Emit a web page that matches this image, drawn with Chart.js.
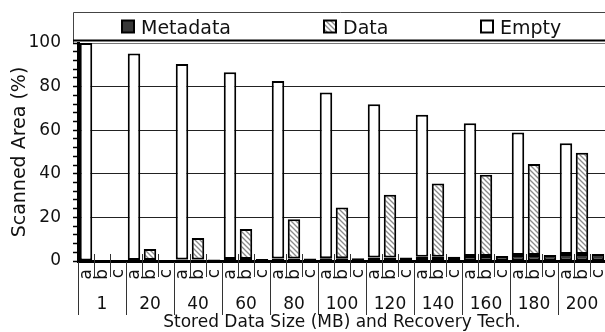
<!DOCTYPE html>
<html>
<head>
<meta charset="utf-8">
<script src="https://cdn.jsdelivr.net/npm/chart.js@4.4.1/dist/chart.umd.min.js"></script>
<style>
  html, body { margin: 0; padding: 0; overflow: hidden; background: #fff; }
  #wrap { width: 607px; height: 332px; }
</style>
</head>
<body>
<div id="wrap"><canvas id="scanChart"></canvas></div>
<script>
// stored data size groups and recovery techniques
const sizes = ['1', '20', '40', '60', '80', '100', '120', '140', '160', '180', '200'];
const techs = ['a', 'b', 'c'];

// values (% of scanned area)
const metadataPct = [0, 0.5, 0.7, 0.9, 1.1, 1.3, 1.6, 1.9, 2.3, 2.7, 3.2];
const dataPct     = [0, 5.0, 9.8, 13.8, 18.0, 23.2, 28.8, 33.7, 37.3, 41.8, 46.5];
const emptyPct    = [100, 94.7, 89.7, 85.7, 81.5, 76.0, 70.3, 65.2, 60.9, 56.2, 50.8];

const yTicks = [0, 20, 40, 60, 80, 100];

const FONT = 'DejaVu Sans';

// bar a = metadata + empty, bar b = metadata + data, bar c = metadata only
const barLabels = sizes.flatMap(() => techs);
const nz = v => (v > 0 ? v : null);
const metaSeries = sizes.flatMap((s, i) => [nz(metadataPct[i]), nz(metadataPct[i]), nz(metadataPct[i])]);
const dataSeries = sizes.flatMap((s, i) => [null, nz(dataPct[i]), null]);
const emptySeries = sizes.flatMap((s, i) => [nz(emptyPct[i]), null, null]);

// hatch for the "Data" series
function makeHatch() {
    const s = 5;
    const c = document.createElement('canvas');
    c.width = s; c.height = s;
    const g = c.getContext('2d');
    g.fillStyle = '#fff';
    g.fillRect(0, 0, s, s);
    g.strokeStyle = '#8a8a8a';
    g.lineWidth = 1.3;
    g.beginPath();
    g.moveTo(0, 0); g.lineTo(s, s);
    g.moveTo(-1, s - 1); g.lineTo(1, s + 1);
    g.moveTo(s - 1, -1); g.lineTo(s + 1, 1);
    g.stroke();
    return g.createPattern(c, 'repeat');
}
const hatch = makeHatch();
const META_COLOR = '#383838';

// legend box, rotated tech letters and the separators under the x axis
const decorations = {
    id: 'decorations',
    afterDraw(chart) {
        const ctx = chart.ctx;
        const x = chart.scales.x;
        const area = chart.chartArea;
        ctx.save();

        // tech letters, read bottom-to-top
        ctx.font = '17px "' + FONT + '"';
        ctx.fillStyle = '#111';
        ctx.textAlign = 'right';
        ctx.textBaseline = 'middle';
        barLabels.forEach((lab, i) => {
            ctx.save();
            ctx.translate(x.getPixelForValue(i) + 1, area.bottom + 8);
            ctx.rotate(-Math.PI / 2);
            ctx.fillText(lab, 0, 0);
            ctx.restore();
        });

        // separators between bars / groups
        const half = (x.getPixelForValue(1) - x.getPixelForValue(0)) / 2;
        const n = barLabels.length;
        ctx.strokeStyle = '#333';
        ctx.lineWidth = 1;
        for (let i = 0; i <= n; i++) {
            const px = Math.round(i < n ? x.getPixelForValue(i) - half : x.getPixelForValue(n - 1) + half) + 0.5;
            ctx.beginPath();
            if (i % 3 === 0) {
                ctx.moveTo(px, area.bottom + 1);
                ctx.lineTo(px, area.bottom + 54);
            } else {
                ctx.moveTo(px, area.bottom - 7);
                ctx.lineTo(px, area.bottom + 16);
            }
            ctx.stroke();
        }

        // legend frame
        const left = 73.5, right = 607, top = 12.5;
        ctx.strokeStyle = '#444';
        ctx.lineWidth = 1;
        ctx.beginPath();
        ctx.moveTo(left, area.top);
        ctx.lineTo(left, top);
        ctx.lineTo(right, top);
        ctx.stroke();
        ctx.strokeStyle = '#000';
        ctx.lineWidth = 2;
        ctx.beginPath();
        ctx.moveTo(left - 0.5, 40.5);
        ctx.lineTo(right, 40.5);
        ctx.stroke();

        // legend items
        const items = [
            { text: 'Metadata', fill: META_COLOR, x: 121 },
            { text: 'Data', fill: hatch, x: 323 },
            { text: 'Empty', fill: '#fff', x: 480 }
        ];
        ctx.font = '19px "' + FONT + '"';
        ctx.textBaseline = 'alphabetic';
        ctx.textAlign = 'left';
        items.forEach(it => {
            ctx.fillStyle = '#000';
            ctx.fillRect(it.x, 19.5, 14, 14);
            ctx.fillStyle = it.fill;
            ctx.fillRect(it.x + 2, 21.5, 10, 10);
            ctx.fillStyle = '#111';
            ctx.fillText(it.text, it.x + 20, 34);
        });
        ctx.restore();
    }
};

const barCommon = {
    borderColor: '#000',
    borderWidth: 2,
    borderSkipped: false,
    barPercentage: 0.78,
    categoryPercentage: 1.0
};

new Chart(document.getElementById('scanChart'), {
    type: 'bar',
    data: {
        labels: barLabels,
        datasets: [
            Object.assign({ label: 'Metadata', data: metaSeries, backgroundColor: META_COLOR }, barCommon),
            Object.assign({ label: 'Data', data: dataSeries, backgroundColor: hatch }, barCommon),
            Object.assign({ label: 'Empty', data: emptySeries, backgroundColor: '#fff' }, barCommon)
        ]
    },
    options: {
        responsive: true,
        maintainAspectRatio: false,
        animation: false,
        devicePixelRatio: 1,
        layout: { padding: { top: 43, right: 1, bottom: 0, left: 0 } },
        plugins: {
            legend: { display: false },
            tooltip: { enabled: false }
        },
        scales: {
            x: {
                stacked: true,
                weight: 0,
                grid: { display: false },
                border: { display: true, color: '#000', width: 3 },
                ticks: { display: false },
                afterFit: s => { s.height = 27; }
            },
            x2: {
                type: 'category',
                labels: sizes,
                position: 'bottom',
                offset: true,
                weight: 1,
                grid: { display: false },
                border: { display: false },
                ticks: {
                    autoSkip: false,
                    maxRotation: 0,
                    padding: -2,
                    color: '#111',
                    font: { family: FONT, size: 17 }
                },
                title: {
                    display: true,
                    text: 'Stored Data Size (MB) and Recovery Tech.',
                    color: '#111',
                    font: { family: FONT, size: 17 },
                    padding: { top: 0, bottom: -1 }
                },
                afterFit: s => { s.height = 44; }
            },
            y: {
                stacked: true,
                min: 0,
                max: 100,
                grid: {
                    color: c => {
                        const v = c.tick ? c.tick.value : -1;
                        if (v === 100) return '#777';
                        return (v > 0 && v % 20 === 0) ? '#222' : 'rgba(0,0,0,0)';
                    },
                    lineWidth: 1,
                    tickColor: '#000',
                    tickLength: 5,
                    tickWidth: 1.5
                },
                border: { display: true, color: '#000', width: 3 },
                ticks: {
                    stepSize: 4,
                    autoSkip: false,
                    padding: 12,
                    color: '#111',
                    font: { family: FONT, size: 17 },
                    callback: v => (yTicks.includes(v) ? v : '')
                },
                title: {
                    display: true,
                    text: 'Scanned Area (%)',
                    color: '#111',
                    font: { family: FONT, size: 19 },
                    padding: { top: 9, bottom: 0 }
                },
                afterFit: s => { s.width = 78; }
            }
        }
    },
    plugins: [decorations]
});
</script>
</body>
</html>
